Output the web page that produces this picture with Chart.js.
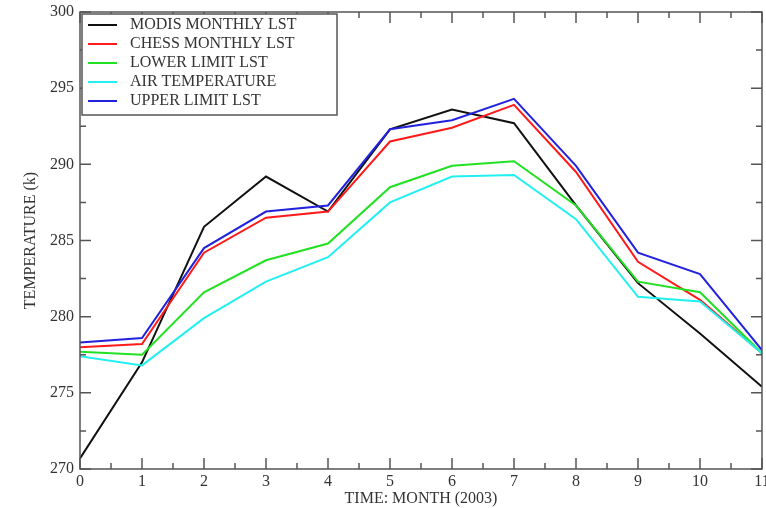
<!DOCTYPE html>
<html>
<head>
<meta charset="utf-8">
<script src="https://cdn.jsdelivr.net/npm/chart.js@4"></script>
<style>
  html, body { margin: 0; padding: 0; background: #fff; }
  #wrap { width: 766px; height: 508px; }
</style>
</head>
<body>
<div id="wrap"><canvas id="lstChart" width="766" height="508"></canvas></div>
<script>
// data
const months = [0, 1, 2, 3, 4, 5, 6, 7, 8, 9, 10, 11];
const modisLst = [270.7, 277.0, 285.9, 289.2, 286.9, 292.3, 293.6, 292.7, 287.3, 282.2, 278.9, 275.4];
const chessLst = [278.0, 278.2, 284.2, 286.5, 286.9, 291.5, 292.4, 293.9, 289.5, 283.6, 281.1, 277.6];
const lowerLst = [277.7, 277.5, 281.6, 283.7, 284.8, 288.5, 289.9, 290.2, 287.3, 282.3, 281.6, 277.6];
const airTemp = [277.4, 276.8, 279.9, 282.3, 283.9, 287.5, 289.2, 289.3, 286.4, 281.3, 281.0, 277.6];
const upperLst = [278.3, 278.6, 284.5, 286.9, 287.3, 292.3, 292.9, 294.3, 289.9, 284.2, 282.8, 277.8];

const seriesNames = ['MODIS MONTHLY LST', 'CHESS MONTHLY LST', 'LOWER LIMIT LST', 'AIR TEMPERATURE', 'UPPER LIMIT LST'];
const seriesColors = ['#111111', '#ff1a1a', '#22e022', '#22f0f0', '#2222dd'];
const seriesValues = [modisLst, chessLst, lowerLst, airTemp, upperLst];

const serif = "'Liberation Serif', 'DejaVu Serif', serif";
const axisColor = '#555';

// box round the plot with inward ticks, like xmgrace
const frameTicks = {
  id: 'frameTicks',
  afterDraw(chart) {
    const c = chart.ctx, a = chart.chartArea;
    const xs = chart.scales.x, ys = chart.scales.y;
    c.save();
    c.strokeStyle = axisColor;
    c.lineWidth = 1.5;
    c.strokeRect(a.left, a.top, a.right - a.left, a.bottom - a.top);
    c.beginPath();
    for (let v = 0; v <= 11; v += 0.5) {
      const px = xs.getPixelForValue(v);
      const len = v % 1 === 0 ? 11 : 6;
      c.moveTo(px, a.bottom); c.lineTo(px, a.bottom - len);
      c.moveTo(px, a.top); c.lineTo(px, a.top + len);
    }
    for (let v = 270; v <= 300; v += 2.5) {
      const py = ys.getPixelForValue(v);
      const len = v % 5 === 0 ? 11 : 6;
      c.moveTo(a.left, py); c.lineTo(a.left + len, py);
      c.moveTo(a.right, py); c.lineTo(a.right - len, py);
    }
    c.stroke();

    // legend box inside the plot
    const bx = a.left + 2, by = a.top + 2, bw = 255, bh = 101, row = 19;
    c.fillStyle = '#fff';
    c.fillRect(bx, by, bw, bh);
    c.strokeRect(bx, by, bw, bh);
    c.font = '16px ' + serif;
    c.textBaseline = 'middle';
    chart.data.datasets.forEach((ds, i) => {
      const y = by + 11 + i * row;
      c.strokeStyle = ds.borderColor;
      c.lineWidth = 2;
      c.beginPath();
      c.moveTo(bx + 6, y); c.lineTo(bx + 35, y);
      c.stroke();
      c.fillStyle = '#333';
      c.fillText(ds.label, bx + 48, y);
    });
    c.restore();
  }
};

const ctx = document.getElementById('lstChart').getContext('2d');
const lstChart = new Chart(ctx, {
  type: 'line',
  data: {
    datasets: seriesNames.map((name, i) => ({
      label: name,
      data: months.map((m, j) => ({ x: m, y: seriesValues[i][j] })),
      borderColor: seriesColors[i],
      borderWidth: 2,
      pointRadius: 0,
      fill: false,
      tension: 0,
      order: 4 - i
    }))
  },
  options: {
    responsive: false,
    animation: false,
    layout: { padding: { top: 12, right: 4, left: 0, bottom: 0 }, autoPadding: false },
    plugins: { legend: { display: false }, tooltip: { enabled: false } },
    scales: {
      x: {
        type: 'linear',
        min: 0,
        max: 11,
        afterFit: s => { s.height = 39; s.paddingLeft = 0; s.paddingRight = 0; },
        grid: { display: false, drawTicks: false },
        border: { display: false },
        ticks: { stepSize: 1, padding: 3, color: '#333', font: { family: serif, size: 16 } },
        title: { display: true, text: 'TIME: MONTH (2003)', color: '#333', padding: { top: 0, bottom: 0 }, font: { family: serif, size: 16 } }
      },
      y: {
        min: 270,
        max: 300,
        afterFit: s => { s.width = 80; s.paddingTop = 0; s.paddingBottom = 0; },
        grid: { display: false, drawTicks: false },
        border: { display: false },
        ticks: { stepSize: 5, padding: 6, color: '#333', font: { family: serif, size: 16 } },
        title: { display: true, text: 'TEMPERATURE (k)', color: '#333', padding: { top: 21, bottom: 0 }, font: { family: serif, size: 16 } }
      }
    }
  },
  plugins: [frameTicks]
});
</script>
</body>
</html>
